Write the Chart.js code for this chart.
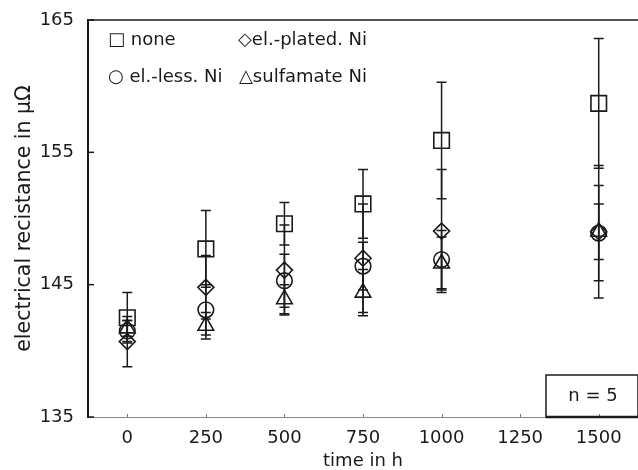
<!DOCTYPE html>
<html>
<head>
<meta charset="utf-8">
<script src="https://cdn.jsdelivr.net/npm/chart.js@4"></script>
<style>
  html, body { margin: 0; padding: 0; background: #fff; }
  #wrap { width: 638px; height: 470px; }
</style>
</head>
<body>
<div id="wrap"><canvas id="chart"></canvas></div>
<script>
// time categories (h); 1250 has no measurement
const times = ['0', '250', '500', '750', '1000', '1250', '1500'];
const yTicks = [135, 145, 155, 165];

// mean resistance in µΩ and error (±) per coating
const none = [142.5, 147.7, 149.6, 151.1, 155.9, null, 158.7];
const noneErr = [1.9, 2.9, 1.6, 2.6, 4.4, null, 4.9];
const plated = [140.7, 144.8, 146.1, 147.0, 149.05, null, 149.0];
const platedErr = [1.9, 2.4, 3.4, 4.1, 4.65, null, 5.0];
const less = [141.5, 143.1, 145.3, 146.4, 146.9, null, 148.9];
const lessErr = [0.8, 1.9, 2.0, 1.8, 2.2, null, 3.6];
const sulfamate = [141.7, 141.9, 143.9, 144.4, 146.6, null, 149.0];
const sulfamateErr = [0.6, 1.0, 1.1, 1.75, 2.0, null, 2.1];

const ink = '#1a1a1a';
const font = 'DejaVu Sans';

const errorBars = {
    id: 'errorBars',
    afterDatasetsDraw(chart) {
        const ctx = chart.ctx;
        const y = chart.scales.y;
        ctx.save();
        ctx.strokeStyle = ink;
        ctx.lineWidth = 1.5;
        chart.data.datasets.forEach((ds, i) => {
            const meta = chart.getDatasetMeta(i);
            ds.data.forEach((v, j) => {
                if (v === null) return;
                const e = ds.err[j];
                const x = meta.data[j].x;
                const top = y.getPixelForValue(v + e);
                const bot = y.getPixelForValue(v - e);
                ctx.beginPath();
                ctx.moveTo(x, top); ctx.lineTo(x, bot);
                ctx.moveTo(x - 5, top); ctx.lineTo(x + 5, top);
                ctx.moveTo(x - 5, bot); ctx.lineTo(x + 5, bot);
                ctx.stroke();
            });
        });
        ctx.restore();
    }
};

const frame = {
    id: 'frame',
    afterDraw(chart) {
        const { ctx, chartArea: a } = chart;
        const y = chart.scales.y;
        const x = chart.scales.x;
        ctx.save();
        ctx.strokeStyle = ink;
        // top frame line
        ctx.lineWidth = 1.5;
        ctx.beginPath();
        ctx.moveTo(a.left, a.top); ctx.lineTo(a.right, a.top);
        ctx.stroke();
        // inward y ticks
        yTicks.forEach(t => {
            const py = y.getPixelForValue(t);
            ctx.beginPath();
            ctx.moveTo(a.left, py); ctx.lineTo(a.left + 6, py);
            ctx.stroke();
        });
        // tiny x ticks
        ctx.strokeStyle = '#777';
        ctx.lineWidth = 1;
        times.forEach((t, i) => {
            const px = Math.round(x.getPixelForValue(i)) + 0.5;
            ctx.beginPath();
            ctx.moveTo(px, a.bottom); ctx.lineTo(px, a.bottom - 3);
            ctx.stroke();
        });

        // legend
        ctx.fillStyle = ink;
        ctx.font = '18px "' + font + '"';
        ctx.textBaseline = 'alphabetic';
        ctx.textAlign = 'left';
        ctx.fillText('\u25A1 none', a.left + 20, a.top + 25);
        ctx.fillText('\u25C7el.-plated. Ni', a.left + 150, a.top + 25);
        ctx.fillText('\u25CB el.-less. Ni', a.left + 20, a.top + 62);
        ctx.fillText('\u25B3sulfamate Ni', a.left + 151, a.top + 62);

        // n = 5 box
        ctx.strokeStyle = ink;
        ctx.lineWidth = 1.5;
        ctx.strokeRect(a.right - 92, a.bottom - 42, 92, 42);
        ctx.lineWidth = 2.5;
        ctx.beginPath();
        ctx.moveTo(a.right - 92, a.bottom); ctx.lineTo(a.right, a.bottom);
        ctx.stroke();
        ctx.textAlign = 'center';
        ctx.textBaseline = 'middle';
        ctx.fillText('n = 5', a.right - 45, a.bottom - 21);
        ctx.restore();
    }
};

function series(label, data, err, style, radius) {
    return {
        label: label,
        data: data,
        err: err,
        showLine: false,
        pointStyle: style,
        pointRadius: radius,
        pointBorderWidth: 1.6,
        pointBorderColor: ink,
        pointBackgroundColor: 'rgba(0,0,0,0)',
        borderColor: ink
    };
}

Chart.defaults.font.family = font;
Chart.defaults.font.size = 18;
Chart.defaults.color = ink;

new Chart(document.getElementById('chart'), {
    type: 'line',
    data: {
        labels: times,
        datasets: [
            series('none', none, noneErr, 'rect', 11),
            series('el.-plated. Ni', plated, platedErr, 'rectRot', 8),
            series('el.-less. Ni', less, lessErr, 'circle', 7.8),
            series('sulfamate Ni', sulfamate, sulfamateErr, 'triangle', 9)
        ]
    },
    options: {
        responsive: true,
        maintainAspectRatio: false,
        animation: false,
        devicePixelRatio: 1,
        layout: { autoPadding: false, padding: { top: 20, right: 0, left: 0, bottom: 0 } },
        plugins: {
            legend: { display: false },
            tooltip: { enabled: false }
        },
        scales: {
            x: {
                type: 'category',
                offset: true,
                afterFit(scale) {
                    scale.height = 53;
                    scale.paddingLeft = 0;
                    scale.paddingRight = 0;
                },
                grid: { display: false, drawTicks: false },
                border: { display: true, color: '#888', width: 1, dash: [1, 1] },
                ticks: { padding: 11, font: { size: 18 } },
                title: {
                    display: true,
                    text: 'time in h',
                    font: { size: 18, lineHeight: 1 },
                    padding: { top: 0, bottom: 0 }
                }
            },
            y: {
                min: 135,
                max: 165,
                afterFit(scale) {
                    scale.width = 88;
                    scale.paddingTop = 0;
                    scale.paddingBottom = 0;
                },
                afterBuildTicks(scale) { scale.ticks = yTicks.map(v => ({ value: v })); },
                grid: { display: false, drawTicks: false },
                border: { display: true, color: ink, width: 2 },
                ticks: { padding: 14, font: { size: 18 } },
                title: {
                    display: true,
                    text: 'electrical recistance in \u03BC\u03A9',
                    font: { size: 20.5, lineHeight: 1 },
                    padding: { top: 14, bottom: 0 }
                }
            }
        }
    },
    plugins: [errorBars, frame]
});
</script>
</body>
</html>
